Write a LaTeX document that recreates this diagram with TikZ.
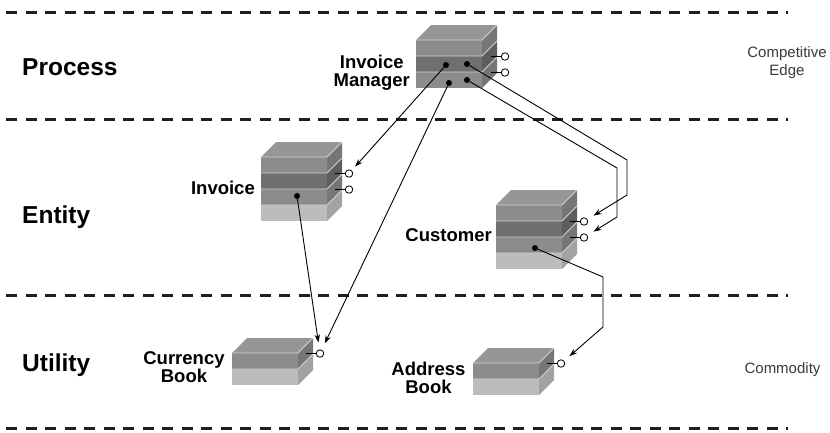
\documentclass[tikz,border=0pt]{standalone}
\usepackage{fontspec}
\setmainfont{Liberation Sans}
\usetikzlibrary{arrows.meta}

% face colours of the stacked blocks: F = front, S = side, T = top
\definecolor{Fm}{HTML}{8C8C8C}
\definecolor{Fd}{HTML}{6F6F6F}
\definecolor{Fl}{HTML}{BCBCBC}
\definecolor{Sm}{HTML}{767676}
\definecolor{Sd}{HTML}{5D5D5D}
\definecolor{Sl}{HTML}{A2A2A2}
\definecolor{Tp}{HTML}{969696}
\definecolor{Gap}{HTML}{D2D2D2}
\definecolor{Note}{HTML}{3A3A3A}

% a block of layers: front-left x, front-top y, list of layer shades (m,d,l)
\newcommand\layerstack[3]{%
  \fill[Tp] (#1,#2) -- ++(15,-15) -- ++(66,0) -- ++(-15,15) -- cycle;
  \foreach \c [count=\i from 0] in {#3} {
    \fill[F\c] (#1,#2+16*\i) rectangle ++(66,16);
    \fill[S\c] (#1+66,#2+16*\i) -- ++(15,-15) -- ++(0,16) -- ++(-15,15) -- cycle;
    \draw[gapline] (#1,#2+16*\i) -- ++(66,0) -- ++(15,-15);
  }
}

\begin{document}
\begin{tikzpicture}[x=1pt,y=-1pt,
  gapline/.style={Gap,line width=0.9pt},
  tier/.style={black!88,line width=3pt,dash pattern=on 11pt off 8.5pt},
  tierlabel/.style={inner sep=0pt,font=\bfseries\fontsize{24.5}{24.5}\selectfont},
  boxlabel/.style={inner sep=0pt,align=center,font=\bfseries\fontsize{18.5}{18}\selectfont},
  note/.style={inner sep=0pt,align=center,text=Note,font=\fontsize{15}{18}\selectfont},
  dot/.style={circle,fill=black,inner sep=0pt,minimum size=6pt},
  port/.style={circle,draw=black,fill=white,line width=0.8pt,inner sep=0pt,minimum size=7.5pt},
  stub/.style={draw=black,line width=0.8pt},
  conn/.style={draw=black,line width=0.9pt,-{Stealth[length=8pt,width=5.5pt]},shorten >=7pt}]

\useasboundingbox (0,0) rectangle (830,432);

% tier separators
\draw[tier] (6,12) -- (788,12);
\draw[tier] (6,119) -- (788,119);
\draw[tier] (6,295) -- (788,295);
\draw[tier] (6,428) -- (788,428);

% tier names
\node[tierlabel,anchor=base west] (process) at (22,75) {Process};
\node[tierlabel,anchor=base west] (entity) at (22,223) {Entity};
\node[tierlabel,anchor=base west] (utility) at (22,371) {Utility};

\node[note] (edge) at (787,62.6) {Competitive\\Edge};
\node[note] (commodity) at (782.5,369.7) {Commodity};

% components
\layerstack{416}{40}{m,d,m}
\layerstack{261}{157}{m,d,m,l}
\layerstack{496}{205}{m,d,m,l}
\layerstack{232}{353}{m,l}
\layerstack{473}{363}{m,l}

\node[boxlabel,anchor=east] (im-label) at (410,73) {Invoice\\Manager};
\node[boxlabel,anchor=east] (inv-label) at (255,188) {Invoice};
\node[boxlabel,anchor=east] (cu-label) at (492,235) {Customer};
\node[boxlabel] (cb-label) at (184,367) {Currency\\Book};
\node[boxlabel] (ab-label) at (428.5,377.5) {Address\\Book};

% interface ports with their stubs
\node[port] (im-p1) at (505,56.5) {};
\node[port] (im-p2) at (505,72.5) {};
\node[port] (inv-p1) at (349,173.5) {};
\node[port] (inv-p2) at (349,189.5) {};
\node[port] (cu-p1) at (584,221.5) {};
\node[port] (cu-p2) at (584,237.5) {};
\node[port] (cb-p1) at (320,353.5) {};
\node[port] (ab-p1) at (561,363.5) {};
\foreach \p in {im-p1,im-p2,inv-p1,inv-p2,cu-p1,cu-p2,cb-p1,ab-p1}
  \draw[stub] (\p.west) -- ++(-10,0);

% client references
\node[dot] (im-d1) at (446,65) {};
\node[dot] (im-d2) at (467,64) {};
\node[dot] (im-d3) at (449,83) {};
\node[dot] (im-d4) at (467,80) {};
\node[dot] (inv-d1) at (297,196) {};
\node[dot] (cu-d1) at (535,248) {};

% bend points of the routed connectors
\coordinate (r1a) at (627,160);
\coordinate (r1b) at (627,195);
\coordinate (r2a) at (617,168);
\coordinate (r2b) at (617,217);
\coordinate (r3a) at (603,277);
\coordinate (r3b) at (603,327);

% uses
\draw[conn,shorten >=5pt] (im-d1) -- (inv-p1);
\draw[conn] (im-d3) -- (cb-p1);
\draw[conn] (inv-d1) -- (cb-p1);
\draw[conn] (im-d2) -- (r1a) -- (r1b) -- (cu-p1);
\draw[conn] (im-d4) -- (r2a) -- (r2b) -- (cu-p2);
\draw[conn] (cu-d1) -- (r3a) -- (r3b) -- (ab-p1);

\end{tikzpicture}
\end{document}
